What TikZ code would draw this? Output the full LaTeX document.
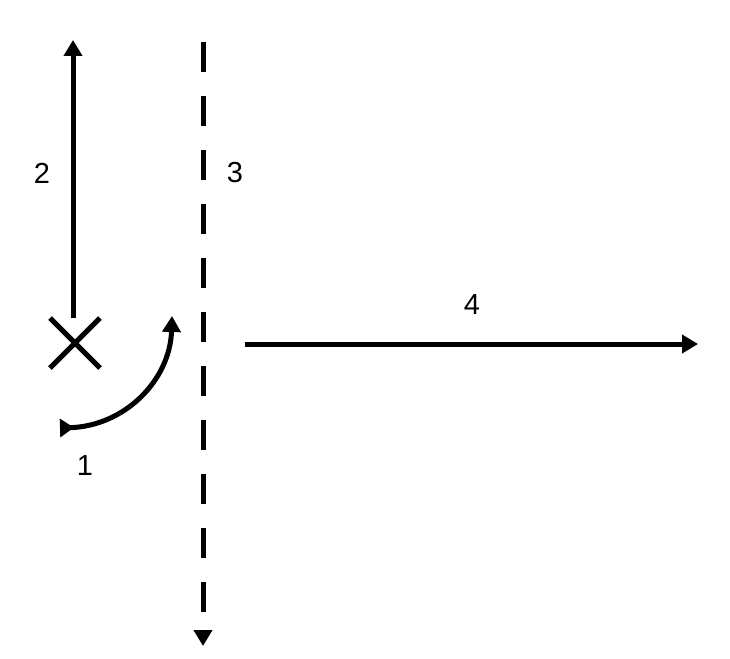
\documentclass[tikz,border=0pt]{standalone}
\usepackage{fontspec}
\setmainfont{Liberation Sans}
\usetikzlibrary{arrows.meta}
\begin{document}
\begin{tikzpicture}[x=1pt,y=-1pt,
  ln/.style={line width=5pt,-{Triangle[length=16pt,width=18pt]}},
  lbl/.style={font=\fontsize{29}{29}\selectfont}]
\useasboundingbox (0,0) rectangle (730,658);
\coordinate (a2s) at (73,318); \coordinate (a2e) at (73,40);
\draw[ln] (a2s) -- (a2e);
\coordinate (x1) at (50,318); \coordinate (x2) at (100,368);
\coordinate (x3) at (100,318); \coordinate (x4) at (50,368);
\draw[line width=5pt] (x1) -- (x2) (x3) -- (x4);
\coordinate (d1) at (203,42); \coordinate (d2) at (203,646);
\draw[ln,dash pattern=on 30pt off 24pt] (d1) -- (d2);
\coordinate (h1) at (245,344); \coordinate (h2) at (698,344);
\draw[ln] (h1) -- (h2);
\coordinate (c1) at (60,428); \coordinate (c2) at (172,316);
\draw[line width=5pt,{Triangle[reversed,length=14pt,width=18pt]}-{Triangle[length=16pt,width=18pt]}] (c1) .. controls (125,426) and (170,380) .. (c2);
\node[lbl] (l1) at (85,466) {1};
\node[lbl] (l2) at (42,173) {2};
\node[lbl] (l3) at (235,173) {3};
\node[lbl] (l4) at (472,305) {4};
\end{tikzpicture}
\end{document}
